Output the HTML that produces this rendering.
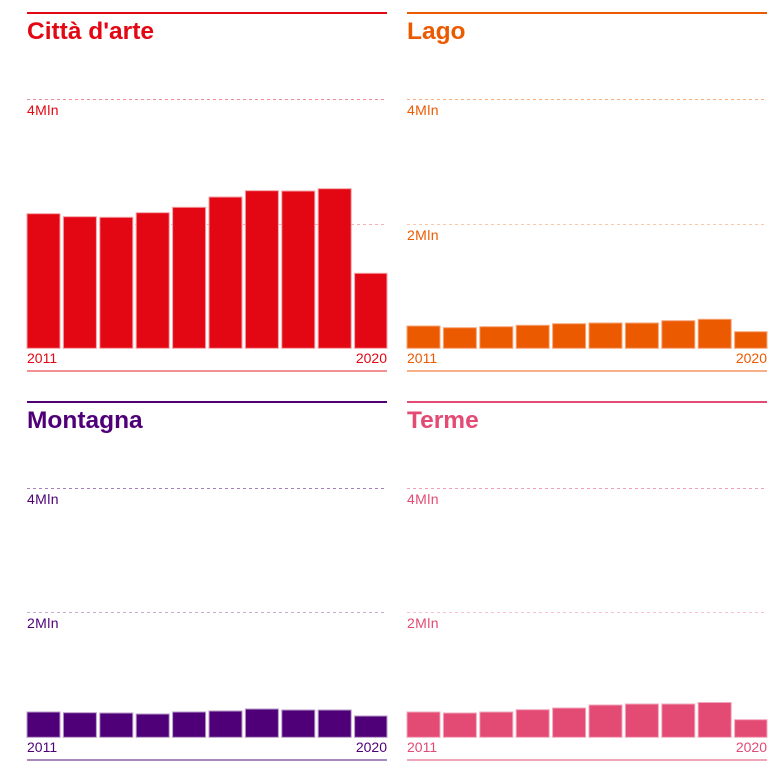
<!DOCTYPE html>
<html><head><meta charset="utf-8"><style>
html,body{margin:0;padding:0;background:#fff;}
svg{display:block;font-family:"Liberation Sans",sans-serif;}
.t{font-size:24.5px;font-weight:bold;}
.l{font-size:14px;letter-spacing:0.4px;}
.y{font-size:14px;}
</style></head><body>
<svg width="782" height="782" viewBox="0 0 782 782" xmlns="http://www.w3.org/2000/svg">
<g id="p1">
<rect x="27" y="12" width="360" height="2" fill="#e30613"/>
<text x="27" y="39" class="t" fill="#e30613">Città d'arte</text>
<line x1="27" y1="99.5" x2="387" y2="99.5" stroke="#f08a8f" stroke-dasharray="3,3"/>
<text x="27" y="115" class="l" fill="#e30613">4Mln</text>
<line x1="27" y1="224.5" x2="387" y2="224.5" stroke="#f5b0b3" stroke-dasharray="3,3"/>
<g fill="#e30613" stroke="#f5a0a4" stroke-width="1">
<rect x="27" y="213.7" width="33" height="134.6"/>
<rect x="63.4" y="216.7" width="33" height="131.6"/>
<rect x="99.8" y="217.3" width="33" height="131"/>
<rect x="136.2" y="212.7" width="33" height="135.6"/>
<rect x="172.6" y="207.3" width="33" height="141"/>
<rect x="209" y="197" width="33" height="151.3"/>
<rect x="245.4" y="190.7" width="33" height="157.6"/>
<rect x="281.8" y="191" width="33" height="157.3"/>
<rect x="318.2" y="188.7" width="33" height="159.6"/>
<rect x="354.6" y="273.3" width="32.4" height="75"/>
</g>
<text x="27" y="363" class="y" fill="#e30613">2011</text>
<text x="387" y="363" class="y" fill="#e30613" text-anchor="end">2020</text>
<rect x="27" y="370" width="360" height="2" fill="#f29094"/>
</g>
<g id="p2">
<rect x="407" y="12" width="360" height="2" fill="#ec5a00"/>
<text x="407" y="39" class="t" fill="#ec5a00">Lago</text>
<line x1="407" y1="99.5" x2="767" y2="99.5" stroke="#f5ad80" stroke-dasharray="3,3"/>
<text x="407" y="115" class="l" fill="#ec5a00">4Mln</text>
<line x1="407" y1="224.5" x2="767" y2="224.5" stroke="#f8c8aa" stroke-dasharray="3,3"/>
<text x="407" y="240" class="l" fill="#ec5a00">2Mln</text>
<g fill="#ec5a00" stroke="#f7a57a" stroke-width="1">
<rect x="407" y="326" width="33" height="22.3"/>
<rect x="443.4" y="327.7" width="33" height="20.6"/>
<rect x="479.8" y="326.7" width="33" height="21.6"/>
<rect x="516.2" y="325.3" width="33" height="23"/>
<rect x="552.6" y="323.7" width="33" height="24.6"/>
<rect x="589" y="323" width="33" height="25.3"/>
<rect x="625.4" y="323" width="33" height="25.3"/>
<rect x="661.8" y="320.7" width="33" height="27.6"/>
<rect x="698.2" y="319.3" width="33" height="29"/>
<rect x="734.6" y="331.7" width="32.4" height="16.6"/>
</g>
<text x="407" y="363" class="y" fill="#ec5a00">2011</text>
<text x="767" y="363" class="y" fill="#ec5a00" text-anchor="end">2020</text>
<rect x="407" y="370" width="360" height="2" fill="#f7b08a"/>
</g>
<g id="p3">
<rect x="27" y="401" width="360" height="2" fill="#4f0078"/>
<text x="27" y="428" class="t" fill="#4f0078">Montagna</text>
<line x1="27" y1="488.5" x2="387" y2="488.5" stroke="#a880bb" stroke-dasharray="3,3"/>
<text x="27" y="504" class="l" fill="#4f0078">4Mln</text>
<line x1="27" y1="612.5" x2="387" y2="612.5" stroke="#c8aad6" stroke-dasharray="3,3"/>
<text x="27" y="628" class="l" fill="#4f0078">2Mln</text>
<g fill="#4f0078" stroke="#b79ac8" stroke-width="1">
<rect x="27" y="712" width="33" height="25.3"/>
<rect x="63.4" y="712.7" width="33" height="24.6"/>
<rect x="99.8" y="713" width="33" height="24.3"/>
<rect x="136.2" y="714" width="33" height="23.3"/>
<rect x="172.6" y="712" width="33" height="25.3"/>
<rect x="209" y="711" width="33" height="26.3"/>
<rect x="245.4" y="709" width="33" height="28.3"/>
<rect x="281.8" y="710" width="33" height="27.3"/>
<rect x="318.2" y="710" width="33" height="27.3"/>
<rect x="354.6" y="716" width="32.4" height="21.3"/>
</g>
<text x="27" y="752" class="y" fill="#4f0078">2011</text>
<text x="387" y="752" class="y" fill="#4f0078" text-anchor="end">2020</text>
<rect x="27" y="759" width="360" height="2" fill="#a88abf"/>
</g>
<g id="p4">
<rect x="407" y="401" width="360" height="2" fill="#e34a74"/>
<text x="407" y="428" class="t" fill="#e34a74">Terme</text>
<line x1="407" y1="488.5" x2="767" y2="488.5" stroke="#f0a0b6" stroke-dasharray="3,3"/>
<text x="407" y="504" class="l" fill="#e34a74">4Mln</text>
<line x1="407" y1="612.5" x2="767" y2="612.5" stroke="#f5c0cf" stroke-dasharray="3,3"/>
<text x="407" y="628" class="l" fill="#e34a74">2Mln</text>
<g fill="#e34a74" stroke="#f2a8bc" stroke-width="1">
<rect x="407" y="712" width="33" height="25.3"/>
<rect x="443.4" y="713" width="33" height="24.3"/>
<rect x="479.8" y="712" width="33" height="25.3"/>
<rect x="516.2" y="709.7" width="33" height="27.6"/>
<rect x="552.6" y="708" width="33" height="29.3"/>
<rect x="589" y="705" width="33" height="32.3"/>
<rect x="625.4" y="704" width="33" height="33.3"/>
<rect x="661.8" y="704" width="33" height="33.3"/>
<rect x="698.2" y="702.5" width="33" height="34.8"/>
<rect x="734.6" y="719.7" width="32.4" height="17.6"/>
</g>
<text x="407" y="752" class="y" fill="#e34a74">2011</text>
<text x="767" y="752" class="y" fill="#e34a74" text-anchor="end">2020</text>
<rect x="407" y="759" width="360" height="2" fill="#f2a5b9"/>
</g>
</svg>
</body></html>
